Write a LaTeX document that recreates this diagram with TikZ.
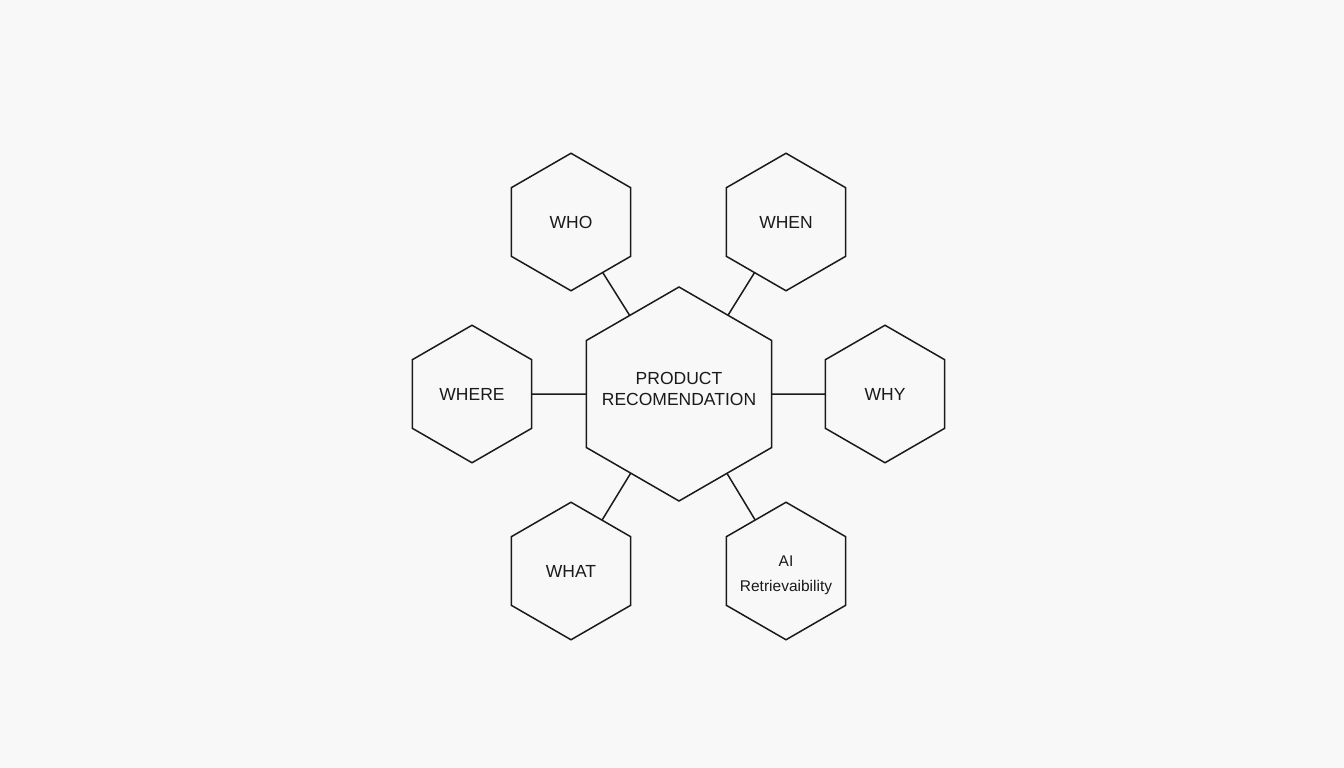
\documentclass[tikz,border=0pt]{standalone}
\usepackage{fontspec}
\setmainfont{Liberation Sans}
\usetikzlibrary{shapes.geometric}
\definecolor{bg}{HTML}{F8F8F8}
\definecolor{ink}{HTML}{1A1A1A}
\tikzset{
  hexbase/.style={regular polygon, regular polygon sides=6, regular polygon rotate=30,
    draw=ink, line width=1.5pt, inner sep=0pt, outer sep=0pt, text=ink},
  bighex/.style={hexbase, minimum size=214pt},
  smallhex/.style={hexbase, minimum size=137.5pt, font=\fontsize{17.5}{21}\selectfont},
  maintxt/.style={align=center, text=ink, inner sep=0pt, font=\fontsize{17.5}{21}\selectfont},
  aitxt/.style={align=center, text=ink, inner sep=0pt, font=\fontsize{15.5}{25}\selectfont},
  link/.style={draw=ink, line width=1.5pt}
}
\begin{document}
\begin{tikzpicture}[x=1pt,y=-1pt]
  \fill[bg] (0,0) rectangle (1344,768);
  \useasboundingbox (0,0) rectangle (1344,768);
  \node[bighex] (c) at (679,394) {};
  \node[maintxt] (ct) at ([yshift=5pt]c.center) {PRODUCT\\RECOMENDATION};
  \node[smallhex] (who) at (571,222) {WHO};
  \node[smallhex] (when) at (786,222) {WHEN};
  \node[smallhex] (where) at (472,394) {WHERE};
  \node[smallhex] (why) at (885,394) {WHY};
  \node[smallhex] (what) at (571,571) {WHAT};
  \node[smallhex] (ai) at (786,571) {};
  \node[aitxt] (ait) at ([yshift=-4pt]ai.center) {AI\\Retrievaibility};
  \draw[link] (c) -- (who);
  \draw[link] (c) -- (when);
  \draw[link] (c) -- (where);
  \draw[link] (c) -- (why);
  \draw[link] (c) -- (what);
  \draw[link] (c) -- (ai);
\end{tikzpicture}
\end{document}
